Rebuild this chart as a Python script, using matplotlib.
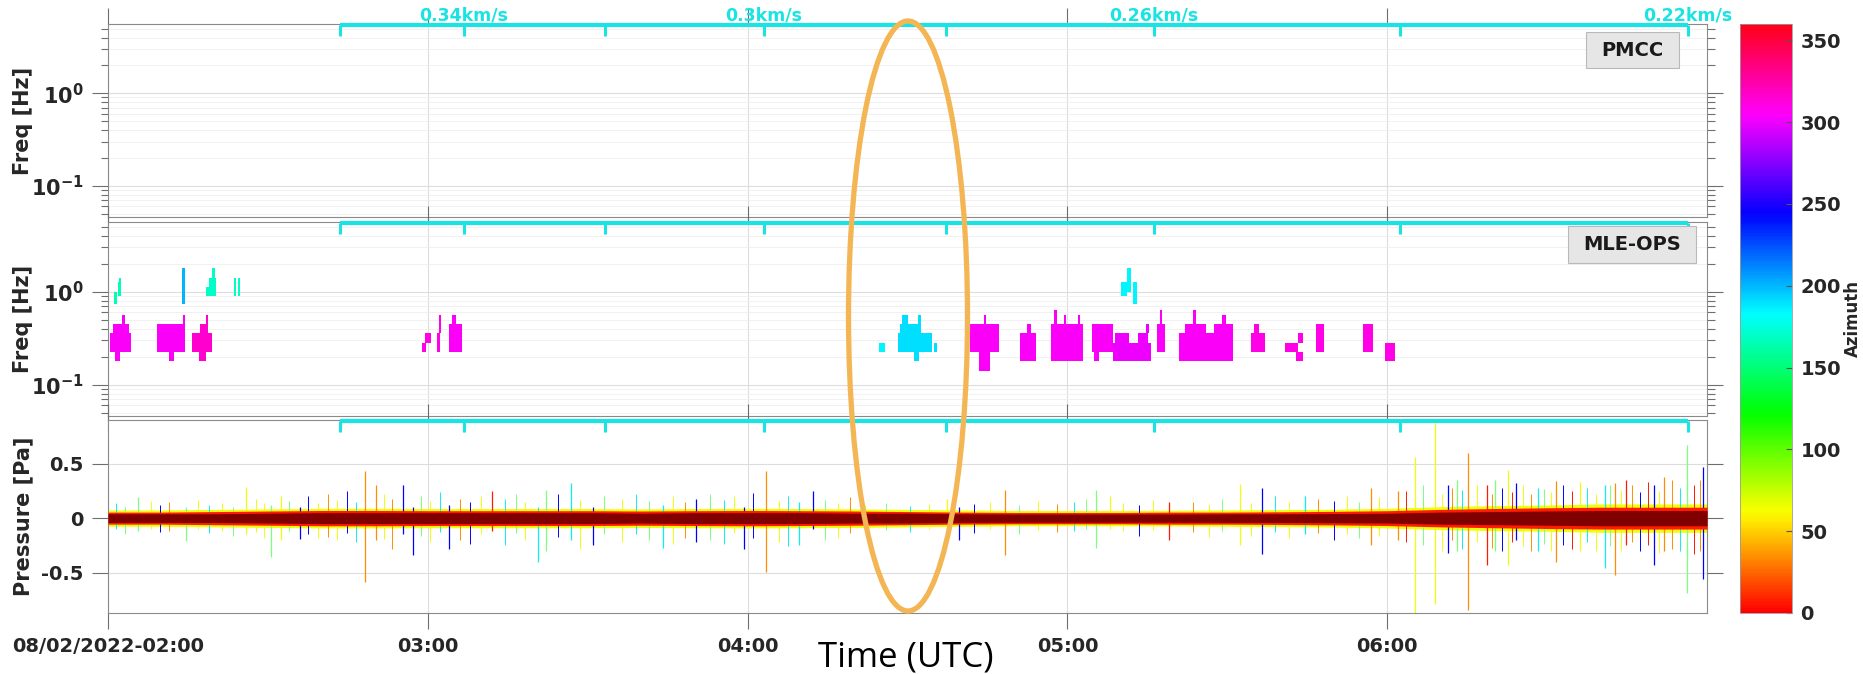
# ----------------------------------------------------------------------------
#
# TITLE - plot.py
#
# ----------------------------------------------------------------------------

### Docstrings and metadata:
'''Infrasound array summary for 08/02/2022, 02:00-07:00 UTC: PMCC and
MLE-OPS detections (frequency vs time, coloured by azimuth) and the
pressure traces of the array elements.
'''

### Imports
import numpy as np
import matplotlib
matplotlib.use('Agg')
from matplotlib import pyplot as plt
from matplotlib import colors, cm
from matplotlib.patches import Ellipse, Rectangle
from matplotlib.ticker import LogLocator, NullFormatter, NullLocator
from matplotlib.transforms import blended_transform_factory

# ----------------------------------------------------------------------------
# Data (times in minutes after 02:00 UTC)

t_start, t_end = 2., 7.
hour_ticks = [2, 3, 4, 5, 6]
hour_labels = ['08/02/2022-02:00', '03:00', '04:00', '05:00', '06:00']

# Celerity bar: predicted arrival for 0.36 ... 0.22 km/s
cel_minutes = [43.5, 66.8, 93.2, 123.0, 157.2, 196.2, 242.4, 296.4]
cel_labels = ['', '0.34km/s', '', '0.3km/s', '', '0.26km/s', '', '0.22km/s']

# MLE-OPS detection cells: (start, end, f_low [Hz], f_high [Hz], azimuth)
mle_high = [
    (1.1, 1.6, 0.74, 1.0, 165), (1.8, 2.4, 0.89, 1.26, 165),
    (2.1, 2.4, 1.26, 1.41, 165),
    (13.9, 14.5, 0.74, 1.78, 200),
    (18.3, 19.0, 0.89, 1.12, 170), (19.0, 20.2, 0.89, 1.41, 170),
    (19.6, 20.0, 1.41, 1.78, 170),
    (23.6, 24.0, 0.89, 1.41, 170), (24.3, 24.8, 0.89, 1.41, 170),
    (190.1, 191.2, 0.89, 1.26, 185), (191.2, 192.0, 1.0, 1.78, 185),
    (192.3, 193.1, 0.74, 1.26, 185),
]
mle_low = [
    # 02:00 - 02:20
    (0.4, 4.4, 0.224, 0.355, 305), (1.0, 4.0, 0.355, 0.447, 305),
    (2.6, 3.1, 0.447, 0.56, 305), (1.3, 2.3, 0.178, 0.224, 305),
    (9.2, 14.4, 0.224, 0.447, 305), (11.5, 12.4, 0.178, 0.224, 305),
    (14.0, 14.5, 0.447, 0.56, 305),
    (15.7, 19.5, 0.224, 0.355, 315), (17.3, 18.8, 0.355, 0.447, 315),
    (18.4, 18.8, 0.447, 0.56, 315), (17.0, 18.3, 0.178, 0.224, 315),
    # around 03:00
    (58.9, 59.6, 0.224, 0.28, 310), (59.4, 60.6, 0.28, 0.355, 310),
    (61.8, 62.3, 0.224, 0.355, 310), (62.1, 62.5, 0.355, 0.56, 310),
    (64.0, 66.5, 0.224, 0.447, 305), (64.6, 65.3, 0.447, 0.56, 305),
    # 04:25 - 04:35
    (144.7, 145.7, 0.224, 0.28, 185),
    (148.2, 154.6, 0.224, 0.355, 190), (148.5, 152.5, 0.355, 0.447, 190),
    (149.0, 150.0, 0.447, 0.56, 190), (152.0, 152.5, 0.447, 0.56, 190),
    (151.2, 152.2, 0.178, 0.224, 190), (155.0, 155.6, 0.224, 0.28, 190),
    # 04:40 - 06:05
    (161.8, 167.2, 0.224, 0.447, 305), (163.5, 165.5, 0.141, 0.224, 305),
    (164.3, 164.7, 0.447, 0.56, 305),
    (171.1, 174.2, 0.178, 0.355, 305), (172.4, 173.2, 0.355, 0.447, 305),
    (177.0, 182.9, 0.178, 0.447, 305), (177.5, 178.0, 0.447, 0.63, 305),
    (179.3, 179.8, 0.447, 0.56, 305), (181.9, 182.4, 0.447, 0.56, 305),
    (184.6, 188.6, 0.224, 0.447, 305), (185.0, 186.0, 0.178, 0.224, 305),
    (188.6, 195.7, 0.178, 0.28, 300), (189.0, 191.5, 0.28, 0.355, 300),
    (193.2, 195.2, 0.28, 0.355, 300), (194.8, 195.4, 0.355, 0.447, 300),
    (196.9, 198.3, 0.224, 0.447, 305), (197.4, 197.8, 0.447, 0.63, 305),
    (200.9, 211.1, 0.178, 0.355, 305), (202.0, 206.0, 0.355, 0.447, 305),
    (203.5, 204.2, 0.447, 0.63, 305), (207.5, 211.1, 0.355, 0.447, 305),
    (209.0, 209.8, 0.447, 0.56, 305),
    (214.4, 217.0, 0.224, 0.355, 310), (215.0, 216.0, 0.355, 0.447, 310),
    (220.8, 223.2, 0.224, 0.28, 310), (222.8, 224.2, 0.178, 0.224, 310),
    (223.2, 224.2, 0.28, 0.355, 310),
    (226.7, 228.1, 0.224, 0.447, 310),
    (235.5, 237.4, 0.224, 0.447, 310),
    (239.6, 241.4, 0.178, 0.28, 310),
]

# Pressure envelope of the traces [Pa], every 10 min
env_minutes = list(range(0, 301, 10))
env_core = [0.04, 0.04, 0.04, 0.045, 0.05, 0.05, 0.05, 0.05, 0.05, 0.05,
            0.045, 0.05, 0.05, 0.05, 0.045, 0.045, 0.04, 0.038, 0.038, 0.038,
            0.038, 0.04, 0.04, 0.042, 0.045, 0.055, 0.06, 0.065, 0.07, 0.07,
            0.07]
env_mid = [0.055, 0.055, 0.06, 0.065, 0.07, 0.07, 0.068, 0.068, 0.068, 0.068,
           0.065, 0.068, 0.07, 0.068, 0.065, 0.06, 0.055, 0.052, 0.052, 0.052,
           0.055, 0.055, 0.058, 0.062, 0.068, 0.08, 0.088, 0.095, 0.1, 0.1,
           0.1]
env_outer = [0.075, 0.075, 0.08, 0.085, 0.09, 0.09, 0.088, 0.088, 0.088, 0.088,
             0.085, 0.088, 0.09, 0.088, 0.085, 0.08, 0.075, 0.07, 0.07, 0.07,
             0.072, 0.075, 0.078, 0.082, 0.09, 0.105, 0.115, 0.12, 0.13, 0.13,
             0.13]

# Larger transients: (time, max [Pa], min [Pa], trace colour)
spikes = [
    (5.7, 0.19, -0.12, 'g'), (14.6, 0.10, -0.21, 'g'), (25.9, 0.29, -0.15, 'y'),
    (30.5, 0.12, -0.36, 'g'), (32.4, 0.20, -0.20, 'y'), (36.1, 0.10, -0.19, 'b'),
    (48.3, 0.43, -0.59, 'o'), (50.2, 0.30, -0.20, 'o'), (55.4, 0.30, -0.15, 'b'),
    (57.2, 0.10, -0.34, 'b'), (63.9, 0.12, -0.28, 'b'), (72.1, 0.25, -0.12, 'r'),
    (80.6, 0.10, -0.40, 'c'), (82.1, 0.26, -0.30, 'g'), (86.9, 0.32, -0.20, 'c'),
    (91.0, 0.10, -0.25, 'b'), (104.1, 0.12, -0.27, 'c'), (110.4, 0.18, -0.22, 'b'),
    (119.3, 0.10, -0.28, 'b'), (123.4, 0.43, -0.49, 'o'), (129.7, 0.15, -0.25, 'c'),
    (132.3, 0.25, -0.10, 'b'), (157.5, 0.18, -0.15, 'y'), (159.7, 0.10, -0.20, 'b'),
    (168.2, 0.26, -0.34, 'o'), (185.3, 0.26, -0.27, 'g'), (187.9, 0.20, -0.10, 'y'),
    (199.0, 0.15, -0.20, 'r'), (212.4, 0.31, -0.25, 'y'), (216.6, 0.28, -0.33, 'b'),
    (224.6, 0.20, -0.15, 'c'), (236.9, 0.28, -0.25, 'o'), (242.0, 0.25, -0.20, 'o'),
    (245.3, 0.56, -0.87, 'y'), (248.9, 0.87, -0.79, 'y'), (251.5, 0.30, -0.32, 'b'),
    (253.1, 0.35, -0.30, 'g'), (255.2, 0.60, -0.84, 'o'), (258.7, 0.30, -0.43, 'r'),
    (260.3, 0.35, -0.30, 'g'), (262.6, 0.44, -0.43, 'y'), (264.2, 0.32, -0.20, 'b'),
    (268.2, 0.28, -0.30, 'c'), (271.7, 0.34, -0.40, 'o'), (276.1, 0.33, -0.30, 'y'),
    (280.9, 0.30, -0.46, 'c'), (282.8, 0.32, -0.52, 'o'), (284.8, 0.35, -0.25, 'r'),
    (290.0, 0.30, -0.43, 'b'), (292.0, 0.38, -0.30, 'o'), (296.2, 0.67, -0.69, 'g'),
    (299.3, 0.47, -0.56, 'b'),
]

# Smaller spikes fringing the noise band
fringe = [
    (1.5, 0.14, -0.10, 'c'), (3.2, 0.10, -0.15, 'g'), (8.0, 0.16, -0.10, 'y'),
    (9.8, 0.12, -0.13, 'b'), (11.5, 0.15, -0.12, 'o'), (16.8, 0.17, -0.10, 'y'),
    (19.0, 0.12, -0.14, 'c'), (21.3, 0.14, -0.12, 'y'), (23.5, 0.10, -0.16, 'g'),
    (27.8, 0.18, -0.13, 'y'), (29.2, 0.14, -0.18, 'y'), (34.0, 0.16, -0.12, 'g'),
    (37.5, 0.20, -0.15, 'b'), (39.4, 0.14, -0.18, 'y'), (41.2, 0.22, -0.17, 'o'),
    (43.0, 0.17, -0.20, 'y'), (44.8, 0.25, -0.14, 'b'), (46.5, 0.15, -0.22, 'c'),
    (51.8, 0.22, -0.19, 'y'), (53.3, 0.18, -0.28, 'o'), (58.8, 0.20, -0.16, 'g'),
    (60.5, 0.16, -0.22, 'y'), (62.2, 0.24, -0.13, 'c'), (66.0, 0.18, -0.20, 'o'),
    (68.0, 0.15, -0.24, 'b'), (70.0, 0.20, -0.15, 'y'), (74.5, 0.18, -0.25, 'c'),
    (76.5, 0.22, -0.14, 'g'), (78.3, 0.15, -0.20, 'y'), (84.5, 0.22, -0.17, 'b'),
    (88.5, 0.17, -0.28, 'y'), (93.0, 0.20, -0.15, 'g'), (96.5, 0.18, -0.22, 'y'),
    (99.0, 0.22, -0.15, 'c'), (101.5, 0.16, -0.20, 'g'), (106.0, 0.20, -0.24, 'y'),
    (108.2, 0.15, -0.18, 'o'), (113.0, 0.22, -0.20, 'g'), (115.5, 0.17, -0.24, 'c'),
    (117.4, 0.20, -0.14, 'y'), (121.0, 0.23, -0.18, 'b'), (125.8, 0.16, -0.22, 'y'),
    (127.5, 0.20, -0.26, 'c'), (134.5, 0.17, -0.20, 'g'), (137.0, 0.14, -0.18, 'y'),
    (139.2, 0.19, -0.14, 'o'), (142.0, 0.12, -0.10, 'y'), (146.0, 0.14, -0.11, 'g'),
    (150.5, 0.11, -0.13, 'c'), (154.0, 0.13, -0.10, 'y'), (162.5, 0.13, -0.14, 'b'),
    (165.5, 0.15, -0.10, 'y'), (171.0, 0.12, -0.15, 'g'), (174.5, 0.16, -0.11, 'y'),
    (178.0, 0.13, -0.13, 'o'), (181.2, 0.15, -0.12, 'c'), (183.5, 0.18, -0.10, 'g'),
    (190.5, 0.14, -0.12, 'y'), (193.5, 0.12, -0.16, 'b'), (196.0, 0.17, -0.11, 'y'),
    (203.5, 0.15, -0.13, 'o'), (206.5, 0.13, -0.17, 'y'), (209.0, 0.18, -0.12, 'g'),
    (214.5, 0.14, -0.16, 'y'), (219.0, 0.20, -0.13, 'c'), (221.5, 0.15, -0.18, 'y'),
    (227.0, 0.18, -0.14, 'o'), (230.0, 0.16, -0.20, 'b'), (232.5, 0.20, -0.15, 'y'),
    (234.8, 0.15, -0.18, 'g'), (238.5, 0.19, -0.16, 'y'), (243.5, 0.25, -0.22, 'r'),
    (246.8, 0.30, -0.25, 'g'), (250.2, 0.22, -0.30, 'y'), (252.2, 0.28, -0.20, 'o'),
    (254.0, 0.26, -0.28, 'c'), (256.8, 0.30, -0.22, 'y'), (259.6, 0.22, -0.27, 'o'),
    (261.5, 0.28, -0.30, 'b'), (263.4, 0.24, -0.22, 'r'), (265.5, 0.30, -0.26, 'y'),
    (267.0, 0.22, -0.30, 'o'), (269.5, 0.27, -0.24, 'g'), (270.8, 0.24, -0.30, 'y'),
    (273.0, 0.30, -0.25, 'b'), (274.6, 0.25, -0.28, 'r'), (277.5, 0.28, -0.22, 'c'),
    (279.2, 0.22, -0.30, 'y'), (281.8, 0.30, -0.26, 'g'), (283.8, 0.26, -0.30, 'y'),
    (286.0, 0.30, -0.22, 'o'), (287.5, 0.24, -0.30, 'b'), (289.0, 0.33, -0.25, 'r'),
    (291.0, 0.25, -0.32, 'y'), (293.5, 0.35, -0.28, 'o'), (295.0, 0.28, -0.30, 'c'),
    (297.5, 0.30, -0.33, 'r'), (298.6, 0.35, -0.30, 'o'),
]

# ----------------------------------------------------------------------------
# Setup

plt.rcParams['font.family'] = 'DejaVu Sans'
plt.rcParams['font.weight'] = 'bold'
plt.rcParams['axes.labelweight'] = 'bold'
plt.rcParams['axes.unicode_minus'] = False

W, H = 1863, 674
fig = plt.figure(figsize=(W/100., H/100.), dpi=100)

def fx(px):
	return px / float(W)
def fy(py):
	return 1. - py / float(H)
def to_hours(minutes):
	return t_start + np.asarray(minutes, dtype=float) / 60.

az_cmap = plt.get_cmap('hsv')
az_norm = colors.Normalize(0, 360)
jet = plt.get_cmap('jet')
trace_colors = {'b': jet(0.12), 'c': jet(0.36), 'g': jet(0.5), 'y': jet(0.64),
                'o': jet(0.76), 'r': jet(0.88), 'k': jet(1.0)}
cyan = '#19E3E3'
tick_col = '#6e6e6e'
text_col = '#262626'

ax_left, ax_right = 108, 1707
panel_rows = [(24, 217), (222, 416), (420, 613)]
axes = []
for top, bot in panel_rows:
    ax = fig.add_axes([fx(ax_left), fy(bot), fx(ax_right - ax_left),
                       (bot - top) / float(H)])
    axes.append(ax)
ax1, ax2, ax3 = axes

for ax in axes:
    ax.set_xlim(t_start, t_end)
    ax.set_xticks(hour_ticks)
    ax.xaxis.set_minor_locator(NullLocator())
    ax.tick_params(which='both', direction='out', top=True, right=True,
                   color=tick_col, labelcolor=text_col, labelsize=14, pad=6)
    ax.tick_params(which='major', length=11.5, width=0.8)
    ax.tick_params(which='minor', length=5.4, width=0.8)
    for sp in ax.spines.values():
        sp.set_color('#8a8a8a')
        sp.set_linewidth(0.8)
    ax.grid(True, which='major', color='#dddddd', lw=0.8)
    ax.set_axisbelow(True)

# Frequency panels
for ax in (ax1, ax2):
    ax.set_yscale('log')
    ax.set_ylim(0.046, 5.6)
    ax.set_yticks([0.1, 1])
    ax.set_yticklabels([r'$\mathbf{10^{-1}}$', r'$\mathbf{10^{0}}$'],
                       fontsize=15)
    ax.yaxis.set_minor_locator(LogLocator(base=10, subs=np.arange(2, 10)))
    ax.yaxis.set_minor_formatter(NullFormatter())
    ax.grid(True, which='minor', axis='y', color='#efefef', lw=0.6)
    ax.set_xticklabels([])
    ax.set_ylabel('Freq [Hz]', fontsize=15, color=text_col, va='center')
    ax.yaxis.set_label_coords(-0.0532, 0.5)

# MLE-OPS detections
cells = mle_low + mle_high
c_t0, c_t1, c_flo, c_fhi, c_az = [np.array(v) for v in zip(*cells)]
ax2.bar(to_hours(c_t0), c_fhi - c_flo, width=(c_t1 - c_t0) / 60.,
        bottom=c_flo, align='edge', color=az_cmap(az_norm(c_az)),
        linewidth=0, zorder=3)

# Pressure panel
ax3.set_ylim(-0.87, 0.90)
ax3.set_yticks([-0.5, 0, 0.5])
ax3.set_yticklabels(['-0.5', '0', '0.5'])
ax3.set_xticklabels(hour_labels)
ax3.set_ylabel('Pressure [Pa]', fontsize=15, color=text_col, va='center')
ax3.yaxis.set_label_coords(-0.0532, 0.5)

env_h = to_hours(env_minutes)
e_out, e_mid, e_core = np.array(env_outer), np.array(env_mid), np.array(env_core)
ax3.fill_between(env_h, -e_out, e_out, color=trace_colors['y'], lw=0, zorder=2)
for group, lw in ((fringe, 0.7), (spikes, 0.9)):
    s_t, s_top, s_bot, s_c = zip(*group)
    ax3.vlines(to_hours(s_t), s_bot, s_top,
               colors=[trace_colors[c] for c in s_c], lw=lw, zorder=2.5)
ax3.fill_between(env_h, -e_mid, e_mid, color=trace_colors['r'], lw=0, zorder=3)
ax3.fill_between(env_h, -e_core, e_core, color=trace_colors['k'], lw=0, zorder=4)

# Celerity bar along the top of each panel
cel_h = to_hours(cel_minutes)
for ax, (top, bot) in zip(axes, panel_rows):
    tr = blended_transform_factory(ax.transData, ax.transAxes)
    h = float(bot - top)
    ax.plot([cel_h[0], cel_h[-1]], [1 - 1/h, 1 - 1/h], color=cyan, lw=3,
            transform=tr, clip_on=False, solid_capstyle='butt', zorder=6)
    for t in cel_h:
        ax.plot([t, t], [1 - 1/h, 1 - 12/h], color=cyan, lw=2.2,
                transform=tr, clip_on=False, solid_capstyle='butt', zorder=6)
tr1 = blended_transform_factory(ax1.transData, ax1.transAxes)
for t, lab in zip(cel_h, cel_labels):
    if lab:
        ax1.text(t, 1 + 4/193., lab, transform=tr1, ha='center', va='baseline',
                 color=cyan, fontsize=12.5, weight='bold', clip_on=False)

# Method labels
def method_box(ax, rows, x0, x1, y0, y1, label):
    top, bot = rows
    h = float(bot - top)
    w = float(ax_right - ax_left)
    ax0 = (x0 - ax_left) / w
    ay0 = 1 - (y1 - top) / h
    ax.add_patch(Rectangle((ax0, ay0), (x1 - x0) / w, (y1 - y0) / h,
                           transform=ax.transAxes, fc='#e6e6e6', ec='#b9b9b9',
                           lw=0.8, zorder=7))
    ax.text(ax0 + (x1 - x0) / w / 2., ay0 + (y1 - y0) / h / 2., label,
            transform=ax.transAxes, ha='center', va='center', fontsize=14,
            weight='bold', color='#1a1a1a', zorder=8)
#def

method_box(ax1, panel_rows[0], 1586, 1679, 32, 68, 'PMCC')
method_box(ax2, panel_rows[1], 1568, 1696, 226, 263, 'MLE-OPS')

# Azimuth colour bar
cax = fig.add_axes([fx(1740), fy(613), fx(52), 589 / float(H)])
sm = cm.ScalarMappable(norm=az_norm, cmap=az_cmap)
cb = fig.colorbar(sm, cax=cax, ticks=np.arange(0, 351, 50))
cb.outline.set_edgecolor('#9a9a9a')
cb.outline.set_linewidth(0.6)
cax.tick_params(direction='in', length=4, color='#555555', labelsize=14,
                labelcolor=text_col, pad=6)
cax.set_ylabel('Azimuth', fontsize=12, weight='bold', color=text_col,
               va='center')
cax.yaxis.set_label_coords(2.17, 0.5)

# Highlight and axis title
fig.add_artist(Ellipse((fx(908), fy(316)), 119 / float(W), 590 / float(H),
                       transform=fig.transFigure, fill=False, ec='#F4B654',
                       lw=3.8, zorder=20))
fig.text(fx(906), fy(666), 'Time (UTC)', ha='center', va='baseline',
         fontsize=25, family='Open Sans', weight='normal', color='black')

fig.savefig('out.png', dpi=100)
